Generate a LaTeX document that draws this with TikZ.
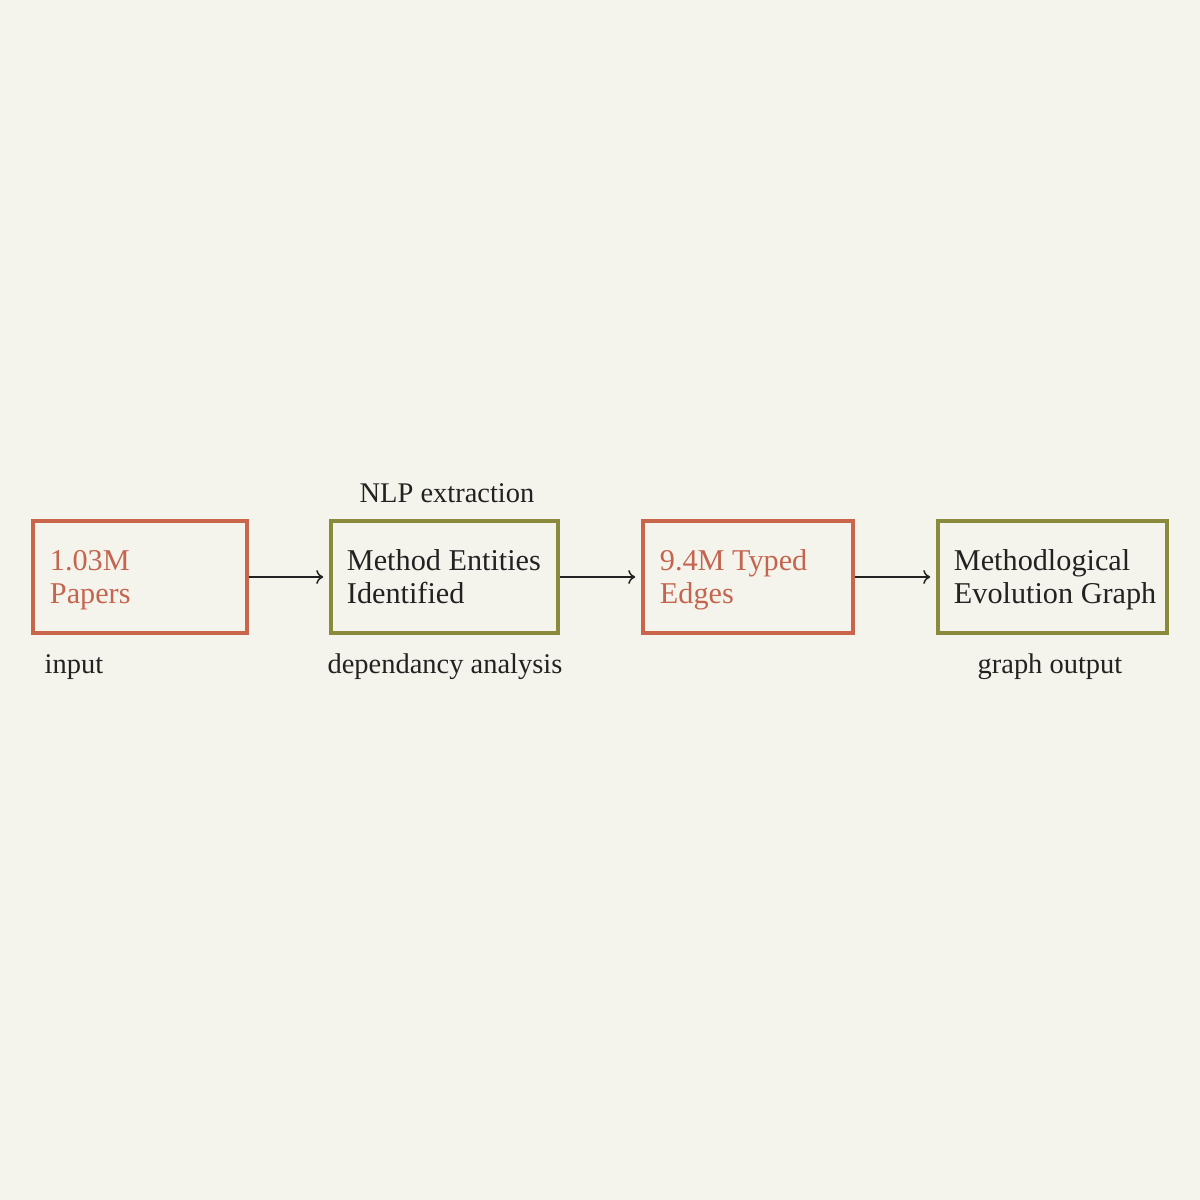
\documentclass[tikz,border=0pt]{standalone}
\usepackage{fontspec}
\setmainfont{Liberation Serif}
\usetikzlibrary{arrows.meta}
\definecolor{bg}{HTML}{F5F4EC}
\definecolor{rust}{HTML}{C9654B}
\definecolor{rusttext}{HTML}{C4654F}
\definecolor{olive}{HTML}{8A8A3C}
\definecolor{ink}{HTML}{222222}
\tikzset{
  stagebox/.style={draw, line width=0.035cm, minimum height=1.12cm, inner sep=0pt},
  redbox/.style={stagebox, draw=rust},
  greenbox/.style={stagebox, draw=olive},
  boxtext/.style={anchor=west, align=left, inner sep=0pt, font=\fontsize{8.6}{9.4}\selectfont},
  lbl/.style={text=ink, font=\fontsize{8.1}{9.4}\selectfont, inner sep=0pt},
  flow/.style={draw=ink, line width=0.015cm, -{To[length=0.07cm,width=0.14cm]}, shorten >=0.06cm}
}
\begin{document}
\begin{tikzpicture}
\useasboundingbox[fill=bg] (0,0) rectangle (12,12);
\node[redbox, minimum width=2.14cm] (p) at (1.40,6.23) {};
\node[greenbox, minimum width=2.27cm] (m) at (4.445,6.23) {};
\node[redbox, minimum width=2.10cm] (e) at (7.48,6.23) {};
\node[greenbox, minimum width=2.29cm] (g) at (10.525,6.23) {};
\node[boxtext, text=rusttext] (pt) at ([xshift=0.18cm,yshift=-0.03cm]p.west) {1.03M\\Papers};
\node[boxtext, text=ink] (mt) at ([xshift=0.17cm]m.west) {Method Entities\\Identified};
\node[boxtext, text=rusttext] (et) at ([xshift=0.18cm,yshift=-0.03cm]e.west) {9.4M Typed\\Edges};
\node[boxtext, text=ink] (gt) at ([xshift=0.17cm,yshift=-0.03cm]g.west) {Methodlogical\\Evolution Graph};
\draw[flow] (p.east) -- (m.west);
\draw[flow] (m.east) -- (e.west);
\draw[flow] (e.east) -- (g.west);
\node[lbl] (nlp) at (4.47,7.07) {NLP extraction};
\node[lbl, anchor=west] (in) at (0.44,5.33) {input};
\node[lbl] (dep) at (4.45,5.33) {dependancy analysis};
\node[lbl] (out) at (10.50,5.33) {graph output};
\end{tikzpicture}
\end{document}
